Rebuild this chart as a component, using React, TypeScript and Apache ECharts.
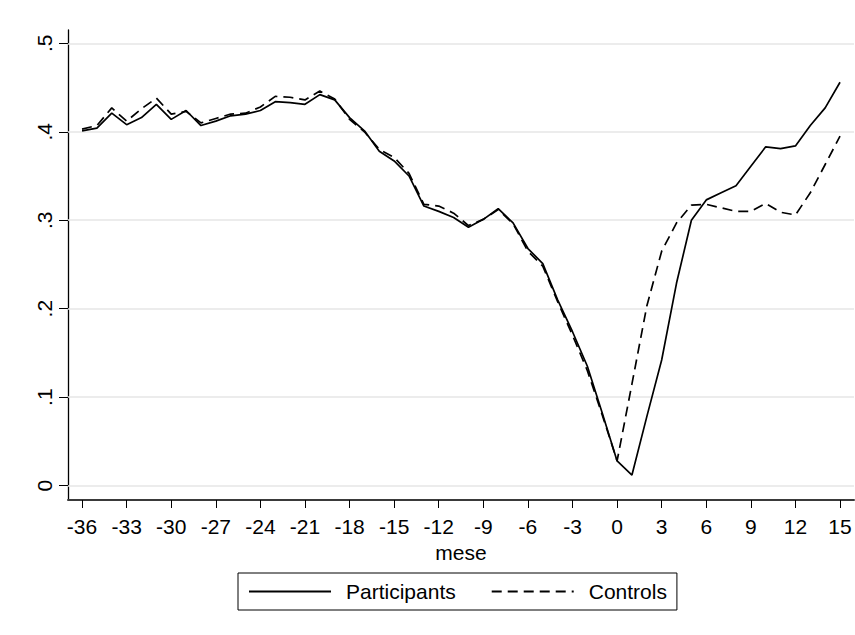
import React, { useEffect, useRef } from "react";
import * as echarts from "echarts";

const months = [
  -36, -35, -34, -33, -32, -31, -30, -29, -28, -27, -26, -25, -24, -23, -22, -21, -20, -19,
  -18, -17, -16, -15, -14, -13, -12, -11, -10, -9, -8, -7, -6, -5, -4, -3, -2, -1,
  0, 1, 2, 3, 4, 5, 6, 7, 8, 9, 10, 11, 12, 13, 14, 15,
];

const participants = [
  0.401, 0.404, 0.421, 0.408, 0.416, 0.431, 0.414, 0.424, 0.407, 0.412, 0.418, 0.42, 0.424, 0.434, 0.433, 0.431, 0.442, 0.436,
  0.416, 0.401, 0.378, 0.367, 0.35, 0.316, 0.31, 0.303, 0.292, 0.301, 0.313, 0.297, 0.268, 0.251, 0.21, 0.174, 0.135, 0.082,
  0.028, 0.012, 0.078, 0.142, 0.229, 0.3, 0.323, 0.331, 0.339, 0.361, 0.383, 0.381, 0.384, 0.407, 0.427, 0.456,
];

const controls = [
  0.403, 0.407, 0.427, 0.412, 0.426, 0.438, 0.42, 0.423, 0.41, 0.415, 0.42, 0.421, 0.428, 0.44, 0.439, 0.436, 0.446, 0.437,
  0.414, 0.4, 0.38, 0.371, 0.353, 0.318, 0.316, 0.308, 0.294, 0.301, 0.312, 0.296, 0.265, 0.248, 0.208, 0.17, 0.13, 0.08,
  0.028, 0.115, 0.203, 0.265, 0.297, 0.317, 0.318, 0.314, 0.31, 0.31, 0.319, 0.309, 0.306, 0.331, 0.363, 0.395,
];

const xTicks = [-36, -33, -30, -27, -24, -21, -18, -15, -12, -9, -6, -3, 0, 3, 6, 9, 12, 15];
const yTicks = [0, 0.1, 0.2, 0.3, 0.4, 0.5];

const seriesNames = ["Participants", "Controls"];
const xTitle = "mese";

export default function App() {
  const ref = useRef<HTMLDivElement>(null);

  useEffect(() => {
    if (!ref.current) return;
    const chart = echarts.init(ref.current, null, { renderer: "svg" });
    const font = "'Liberation Sans', Arial, sans-serif";
    const fmtY = (v: number) => {
      if (Math.abs(v) < 1e-9) return "0";
      return String(Math.round(v * 10) / 10).replace(/^0\./, ".");
    };
    chart.setOption({
      animation: false,
      backgroundColor: "#ffffff",
      textStyle: { fontFamily: font, color: "#000" },
      grid: { left: 68, right: 1, top: 30, bottom: 135, containLabel: false },
      xAxis: {
        type: "value",
        min: -36.945,
        max: 15.94,
        name: xTitle,
        nameLocation: "middle",
        nameGap: 33,
        nameTextStyle: { fontSize: 21, color: "#000", fontFamily: font },
        axisLine: { show: true, onZero: false, lineStyle: { color: "#3a3a3a", width: 2 } },
        axisTick: { show: true, customValues: xTicks, length: 8, lineStyle: { color: "#000", width: 1 } },
        axisLabel: {
          show: true,
          customValues: xTicks,
          fontSize: 21,
          color: "#000",
          margin: 16,
          fontFamily: font,
        },
        splitLine: { show: false },
      },
      yAxis: {
        type: "value",
        min: -0.0162,
        max: 0.515,
        axisLine: { show: true, onZero: false, lineStyle: { color: "#000", width: 1.3 } },
        axisTick: { show: true, customValues: yTicks, length: 9, lineStyle: { color: "#000", width: 1 } },
        axisLabel: {
          show: true,
          customValues: yTicks,
          rotate: 90,
          fontSize: 21,
          color: "#000",
          margin: 13,
          fontFamily: font,
          formatter: fmtY,
        },
        splitLine: { show: false },
      },
      legend: {
        show: true,
        left: 238,
        top: 573,
        orient: "horizontal",
        padding: [8, 10, 8, 10],
        itemGap: 35,
        itemWidth: 82,
        itemHeight: 14,
        borderColor: "#000",
        borderWidth: 1,
        selectedMode: false,
        itemStyle: { color: "rgba(0,0,0,0)", borderWidth: 0, opacity: 0 },
        textStyle: { fontSize: 21, color: "#000", fontFamily: font, padding: [0, 0, 0, 10] },
        data: seriesNames,
      },
      series: [
        {
          name: "grid",
          type: "line",
          data: [],
          z: 1,
          silent: true,
          markLine: {
            silent: true,
            symbol: "none",
            z: 1,
            label: { show: false },
            lineStyle: { color: "#e6e6e6", width: 1.5, type: "solid" },
            data: yTicks.map((v) => ({ yAxis: v })),
          },
        },
        {
          name: seriesNames[0],
          type: "line",
          symbol: "none",
          z: 3,
          data: months.map((m, i) => [m, participants[i]]),
          lineStyle: { color: "#000", width: 1.7, type: "solid" },
          itemStyle: { color: "#000" },
        },
        {
          name: seriesNames[1],
          type: "line",
          symbol: "none",
          z: 3,
          data: months.map((m, i) => [m, controls[i]]),
          lineStyle: { color: "#000", width: 1.7, type: [10, 6] },
          itemStyle: { color: "#000" },
        },
      ],
    });
    return () => chart.dispose();
  }, []);

  return (
    <div
      ref={ref}
      style={{ position: "fixed", left: 0, top: 0, width: 855, height: 635, background: "#fff" }}
    />
  );
}
